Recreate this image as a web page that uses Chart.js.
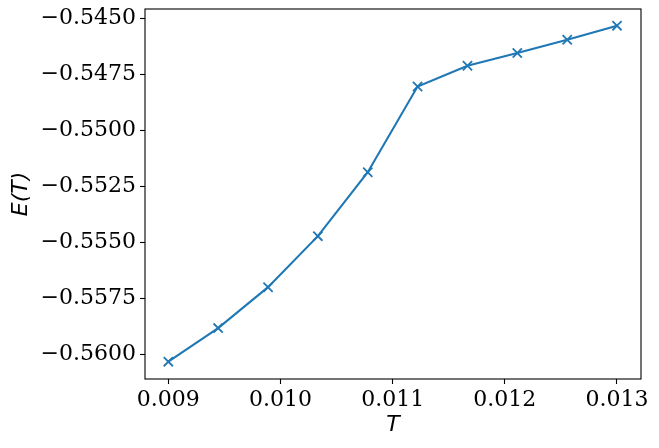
<!DOCTYPE html>
<html>
<head>
<meta charset="utf-8">
<script src="https://cdn.jsdelivr.net/npm/chart.js@4"></script>
<style>
  html, body { margin: 0; padding: 0; background: #ffffff; }
  #wrap { width: 659px; height: 448px; position: relative; }
</style>
</head>
<body>
<div id="wrap"><canvas id="c" width="659" height="448"></canvas></div>
<script>
// Data
const temperatures = [0.009, 0.009444, 0.009889, 0.010333, 0.010778, 0.011222, 0.011667, 0.012111, 0.012556, 0.013];
const energies = [-0.56033, -0.55883, -0.55700, -0.55472, -0.55186, -0.54803, -0.54710, -0.54653, -0.54594, -0.54531];
const xTicks = [0.009, 0.010, 0.011, 0.012, 0.013];
const yTicks = [-0.5600, -0.5575, -0.5550, -0.5525, -0.5500, -0.5475, -0.5450];
const xLabel = 'T';
const yLabel = 'E(T)';

const points = temperatures.map((t, i) => ({ x: t, y: energies[i] }));
const LINE = '#1f77b4';
const tickFont = { family: 'DejaVu Serif', size: 22 };
const titleFont = { family: 'DejaVu Sans', size: 22, style: 'italic' };

const frame = {
  id: 'frame',
  afterDatasetsDraw(chart) {
    const a = chart.chartArea, ctx = chart.ctx;
    ctx.save();
    ctx.strokeStyle = '#000';
    ctx.lineWidth = 1.1;
    ctx.strokeRect(a.left, a.top, a.right - a.left, a.bottom - a.top);
    ctx.restore();
  }
};

function noPad(s) { s.paddingTop = 0; s.paddingBottom = 0; s.paddingLeft = 0; s.paddingRight = 0; }

new Chart(document.getElementById('c'), {
  type: 'scatter',
  data: {
    datasets: [{
      data: points,
      showLine: true,
      borderColor: LINE,
      backgroundColor: LINE,
      borderWidth: 2.1,
      pointStyle: 'crossRot',
      pointRadius: 6.5,
      pointHoverRadius: 6.5,
      pointBorderWidth: 1.8,
      pointBorderColor: LINE,
      tension: 0
    }]
  },
  options: {
    responsive: false,
    animation: false,
    devicePixelRatio: 1,
    layout: { padding: { top: 9, right: 18, left: 0, bottom: 0 } },
    plugins: { legend: { display: false }, tooltip: { enabled: false } },
    scales: {
      x: {
        type: 'linear',
        min: 0.008792,
        max: 0.013214,
        afterBuildTicks(s) { s.ticks = xTicks.map(v => ({ value: v })); },
        afterFit(s) { s.height = 69; noPad(s); },
        grid: { drawOnChartArea: false, drawTicks: true, tickLength: 5, tickColor: '#000', tickWidth: 1.1 },
        border: { display: false },
        ticks: {
          color: '#000', font: tickFont, padding: 3, maxRotation: 0, autoSkip: false,
          callback: v => v.toFixed(3)
        },
        title: { display: true, text: xLabel, color: '#000', font: titleFont, padding: { top: 0, bottom: 10 } }
      },
      y: {
        type: 'linear',
        min: -0.561105,
        max: -0.544566,
        afterBuildTicks(s) { s.ticks = yTicks.map(v => ({ value: v })); },
        afterFit(s) { s.width = 145; noPad(s); },
        grid: { drawOnChartArea: false, drawTicks: true, tickLength: 5, tickColor: '#000', tickWidth: 1.1 },
        border: { display: false },
        ticks: {
          color: '#000', font: tickFont, padding: 4, autoSkip: false,
          callback: v => (v < 0 ? '\u2212' : '') + Math.abs(v).toFixed(4)
        },
        title: { display: true, text: yLabel, color: '#000', font: titleFont, padding: { top: 8, bottom: 0 } }
      }
    }
  },
  plugins: [frame]
});
</script>
</body>
</html>
